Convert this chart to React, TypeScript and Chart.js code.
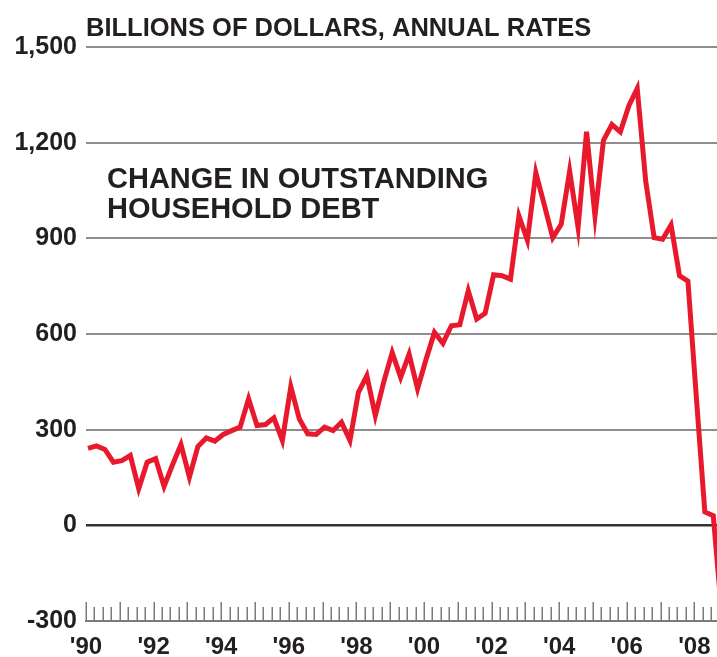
import React, { useEffect, useRef } from "react";
import { Chart, registerables } from "chart.js";

Chart.register(...registerables);

// ---- Data ----
const START_YEAR = 1990;
// Quarterly observations starting 1990 Q1
const QUARTER_LABELS: string[] = Array.from({ length: 76 }, (_, i) => `${START_YEAR + Math.floor(i / 4)} Q${(i % 4) + 1}`);

// Change in outstanding household debt, billions of dollars, annual rates
const DEBT_CHANGE: number[] = [
  241, 249, 238, 198, 203, 219, 115, 198, 209, 122,
  190, 253, 151, 247, 274, 264, 285, 297, 308, 397,
  313, 316, 337, 266, 435, 334, 287, 285, 308, 297,
  323, 266, 417, 469, 344, 450, 542, 464, 537, 428,
  520, 605, 571, 626, 629, 736, 647, 665, 786, 783,
  772, 970, 894, 1106, 1005, 902, 944, 1111, 934, 1234,
  970, 1207, 1257, 1234, 1315, 1370, 1080, 902, 897, 942,
  783, 766, 400, 42, 30, -280,
];

const Y_TICKS: number[] = [-300, 0, 300, 600, 900, 1200, 1500];
const X_LABEL_YEARS: number[] = [1990, 1992, 1994, 1996, 1998, 2000, 2002, 2004, 2006, 2008];
const TITLE = "BILLIONS OF DOLLARS, ANNUAL RATES";
const ANNOTATION: string[] = ["CHANGE IN OUTSTANDING", "HOUSEHOLD DEBT"];

// ---- Style ----
const FONT = '"Liberation Sans", Arial, Helvetica, sans-serif';
const TEXT_COLOR = "#231f20";
const LINE_COLOR = "#e8192c";
const GRID_COLOR = "#8e8e8e";
const ZERO_COLOR = "#333333";
const AXIS_COLOR = "#7a7a7a";
const X_MIN = 1990;
const X_MAX = 2008.67;
const QUARTER_OFFSET = 0.06;

function quarterToX(label: string): number {
  const [y, q] = label.split(" Q");
  return Number(y) + (Number(q) - 1) / 4 + QUARTER_OFFSET;
}

const textPlugin = {
  id: "texts",
  afterDraw(chart: any) {
    const ctx = chart.ctx;
    const area = chart.chartArea;
    ctx.save();
    ctx.fillStyle = TEXT_COLOR;
    ctx.textAlign = "left";
    ctx.textBaseline = "alphabetic";
    ctx.font = `bold 25.5px ${FONT}`;
    ctx.fillText(TITLE, area.left, 36);
    ctx.font = `bold 29px ${FONT}`;
    ctx.fillText(ANNOTATION[0], area.left + 21, 188);
    ctx.fillText(ANNOTATION[1], area.left + 21, 218);
    ctx.restore();
  },
};

const tickPlugin = {
  id: "quarterTicks",
  beforeDatasetsDraw(chart: any) {
    const ctx = chart.ctx;
    const xs = chart.scales.x;
    const bottom = chart.chartArea.bottom;
    ctx.save();
    ctx.strokeStyle = AXIS_COLOR;
    ctx.lineWidth = 1.5;
    for (let k = 0; ; k++) {
      const v = X_MIN + k * 0.25;
      if (v > xs.max) break;
      const px = Math.round(xs.getPixelForValue(v)) + 0.25;
      const len = k % 4 === 0 ? 19 : 14;
      ctx.beginPath();
      ctx.moveTo(px, bottom);
      ctx.lineTo(px, bottom - len);
      ctx.stroke();
    }
    ctx.restore();
  },
};

export default function App() {
  const canvasRef = useRef<HTMLCanvasElement | null>(null);

  useEffect(() => {
    if (!canvasRef.current) return;
    const data = QUARTER_LABELS.map((q, i) => ({ x: quarterToX(q), y: DEBT_CHANGE[i] }));
    const chart = new Chart(canvasRef.current, {
      type: "line",
      data: {
        datasets: [
          {
            label: "Change in outstanding household debt",
            data,
            borderColor: LINE_COLOR,
            borderWidth: 5,
            pointRadius: 0,
            tension: 0,
            fill: false,
            borderJoinStyle: "miter",
          },
        ],
      },
      options: {
        responsive: false,
        animation: false,
        layout: { padding: { top: 47, left: 0, right: 0, bottom: 0 } },
        plugins: {
          legend: { display: false },
          tooltip: { enabled: false },
          title: { display: false },
        },
        scales: {
          x: {
            type: "linear",
            min: X_MIN,
            max: X_MAX,
            afterFit: (scale: any) => {
              scale.height = 36;
              scale.paddingLeft = 0;
              scale.paddingRight = 0;
            },
            grid: { display: false, drawTicks: false },
            border: { display: true, color: AXIS_COLOR, width: 2 },
            ticks: {
              stepSize: 1,
              includeBounds: false,
              autoSkip: false,
              maxRotation: 0,
              padding: 12,
              color: TEXT_COLOR,
              font: { family: FONT, size: 24, weight: "bold" },
              callback: (v: any) => (X_LABEL_YEARS.includes(Number(v)) ? "'" + String(v).slice(2) : ""),
            },
          },
          y: {
            type: "linear",
            min: Y_TICKS[0],
            max: Y_TICKS[Y_TICKS.length - 1],
            afterFit: (scale: any) => {
              scale.width = 86;
            },
            afterBuildTicks: (scale: any) => {
              scale.ticks = Y_TICKS.map((v) => ({ value: v }));
            },
            border: { display: false },
            grid: {
              drawTicks: false,
              color: (c: any) => (c.tick && c.tick.value === 0 ? ZERO_COLOR : c.tick && c.tick.value === -300 ? "rgba(0,0,0,0)" : GRID_COLOR),
              lineWidth: (c: any) => (c.tick && c.tick.value === 0 ? 2.5 : 2),
            },
            ticks: {
              padding: 9,
              color: TEXT_COLOR,
              font: { family: FONT, size: 25, weight: "bold" },
              callback: (v: any) => Number(v).toLocaleString("en-US"),
            },
          },
        },
      },
      plugins: [tickPlugin, textPlugin],
    });
    return () => chart.destroy();
  }, []);

  return (
    <div style={{ position: "absolute", left: 0, top: 0, width: 717, height: 657, background: "#fff" }}>
      <canvas ref={canvasRef} width={717} height={657} style={{ display: "block" }} />
    </div>
  );
}
